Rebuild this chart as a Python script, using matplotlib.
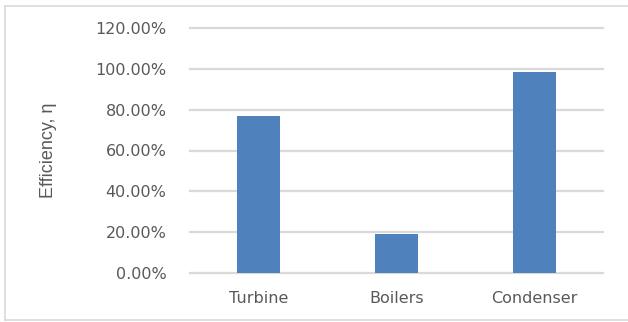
import matplotlib
matplotlib.use('Agg')
import matplotlib.pyplot as plt
from matplotlib.lines import Line2D
from matplotlib.ticker import PercentFormatter

# Efficiency of each component
components = ['Turbine', 'Boilers', 'Condenser']
efficiency = [0.769, 0.191, 0.983]
y_ticks = [0.0, 0.2, 0.4, 0.6, 0.8, 1.0, 1.2]

W, H = 628, 322
fig = plt.figure(figsize=(W / 100, H / 100), dpi=100)
ax = fig.add_axes([190 / W, (H - 273) / H, (603 - 190) / W, (273 - 28) / H])

text_color = '#595959'
grid_color = '#d9d9d9'

ax.bar(range(len(components)), efficiency, width=0.31, color='#4f81bd',
       zorder=3)
ax.set_xlim(-0.5, len(components) - 0.5)
ax.set_ylim(0, 1.2)
ax.set_yticks(y_ticks)
ax.yaxis.set_major_formatter(PercentFormatter(1.0, decimals=2))
ax.set_xticks(range(len(components)))
ax.set_xticklabels(components)
ax.grid(axis='y', color=grid_color, linewidth=1.6, zorder=0)
for gl in ax.get_ygridlines():
    gl.set_clip_on(False)
ax.tick_params(length=0, colors=text_color, labelsize=11.5)
ax.tick_params(axis='y', pad=17)
ax.tick_params(axis='x', pad=13)
for s in ax.spines.values():
    s.set_visible(False)

ax.set_ylabel('Efficiency, η', color=text_color, fontsize=13,
              family=['Liberation Sans', 'DejaVu Sans'])
ax.yaxis.set_label_coords((57 - 190) / (603 - 190), 0.5)

# light frame around the chart area: left, top and bottom edges only
x0, y0, y1 = 5 / W, 2 / H, 316 / H
for xs, ys in [([x0, x0], [y0, y1]), ([x0, 1.0], [y1, y1]),
               ([x0, 1.0], [y0, y0])]:
    fig.add_artist(Line2D(xs, ys, transform=fig.transFigure,
                          color=grid_color, linewidth=1.2))

fig.savefig('out.png', dpi=100)
